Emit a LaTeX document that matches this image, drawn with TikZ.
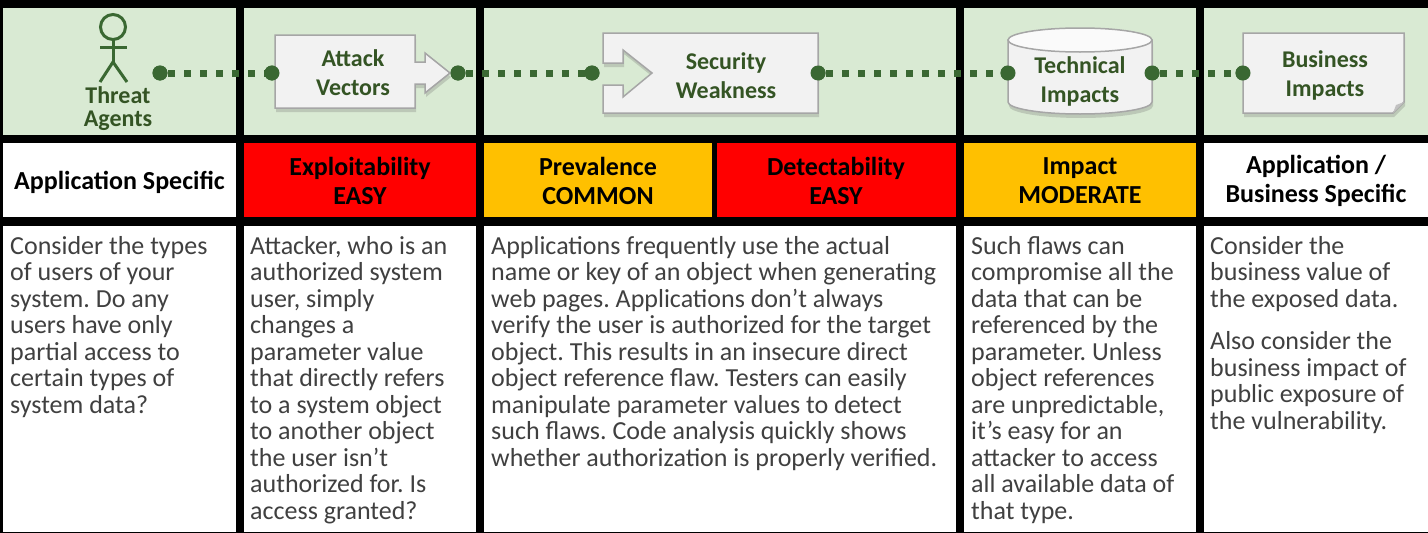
\documentclass[tikz,border=0pt]{standalone}
\usepackage{fontspec}
\setmainfont{Carlito}
\usetikzlibrary{shadows}
\definecolor{bggreen}{RGB}{217,234,211}
\definecolor{dkgreen}{RGB}{52,84,36}
\definecolor{dotgreen}{RGB}{58,104,50}
\definecolor{boxfill}{RGB}{242,242,242}
\definecolor{boxline}{RGB}{166,166,166}
\definecolor{riskred}{RGB}{255,0,0}
\definecolor{riskorange}{RGB}{255,192,0}
\definecolor{bodygray}{RGB}{64,64,64}
\frenchspacing
\begin{document}
\begin{tikzpicture}[x=1pt,y=-1pt,
  hdr/.style={font=\bfseries\fontsize{26}{29}\selectfont, align=center, inner sep=0pt, text=black},
  toplabel/.style={font=\bfseries\fontsize{24}{29}\selectfont, align=center, inner sep=0pt, text=dkgreen},
  bodytext/.style={font=\fontsize{26}{26.5}\selectfont, align=left, inner sep=0pt, anchor=north west, text=bodygray},
  gdot/.style={circle, fill=dotgreen, minimum size=15pt, inner sep=0pt},
  gline/.style={draw=dotgreen, line width=7pt, dash pattern=on 7pt off 9pt, dash phase=8pt},
  shapebox/.style={fill=boxfill, draw=boxline, line width=1.5pt, line join=miter,
    drop shadow={shadow xshift=1pt, shadow yshift=-4pt, opacity=0.25, fill=black!60}},
  figline/.style={draw=dotgreen, line width=3pt}
]
\useasboundingbox (0,0) rectangle (1428,533);
\fill[black] (0,0) rectangle (1428,533);
% green row
\fill[bggreen] (3,8) rectangle (236,135);
\fill[bggreen] (244,8) rectangle (476,135);
\fill[bggreen] (484,8) rectangle (956,135);
\fill[bggreen] (964,8) rectangle (1196,135);
\fill[bggreen] (1204,8) rectangle (1428,135);
% header row
\fill[white] (3,143) rectangle (236,217);
\fill[riskred] (244,143) rectangle (476,217);
\fill[riskorange] (484,143) rectangle (712,217);
\fill[riskred] (717,143) rectangle (956,217);
\fill[riskorange] (964,143) rectangle (1196,217);
\fill[white] (1204,143) rectangle (1428,217);
% body row
\fill[white] (3,226) rectangle (236,532);
\fill[white] (244,226) rectangle (476,532);
\fill[white] (484,226) rectangle (956,532);
\fill[white] (964,226) rectangle (1196,532);
\fill[white] (1204,226) rectangle (1428,532);

% dots
\node[gdot] (ta) at (160,73) {};
\node[gdot] (avin) at (272,73) {};
\node[gdot] (avout) at (458,73) {};
\node[gdot] (swin) at (592,73) {};
\node[gdot] (swout) at (818,73) {};
\node[gdot] (tiin) at (1008,73) {};
\node[gdot] (tiout) at (1152,73) {};
\node[gdot] (biin) at (1243,73) {};

% dotted connectors
\draw[gline] (ta.center) -- (avin.center);
\draw[gline] (avout.center) -- (swin.center);
\draw[gline] (swout.center) -- (tiin.center);
\draw[gline] (tiout.center) -- (biin.center);

% stick figure
\draw[figline] (113,27) circle (12.5);
\draw[figline] (113,39.5) -- (113,62);
\draw[figline] (100,47) -- (127,47);
\draw[figline] (100,82) -- (113,62) -- (127,82);
\node[toplabel, font=\bfseries\fontsize{24}{23}\selectfont] (tal) at (118,109) {Threat\\Agents};

% attack vectors box
\path[shapebox] (275,35) -- (415,35) -- (415,62) -- (425,62) -- (425,53) -- (450,73)
  -- (425,93) -- (425,84) -- (415,84) -- (415,108) -- (275,108) -- cycle;
\node[toplabel] (avl) at (353,73) {Attack\\Vectors};

% security weakness box
\path[shapebox] (603,33) -- (818,33) -- (818,113) -- (603,113) -- (603,85) -- (623,85)
  -- (623,97) -- (652,73) -- (623,50) -- (623,63) -- (603,63) -- cycle;
\node[toplabel] (swl) at (726,76) {Security\\Weakness};

% technical impacts cylinder
\path[shapebox] (1008,40) -- (1008,102) arc[start angle=180, end angle=0, x radius=72, y radius=12] -- (1152,40) -- cycle;
\draw[fill=white!60!boxfill, draw=boxline, line width=1.5pt] (1080,40) ellipse [x radius=72, y radius=12];
\node[toplabel] (til) at (1080,81) {Technical\\Impacts};

% business impacts page
\path[shapebox] (1243,33) -- (1404,33) -- (1404,102) -- (1393,113) -- (1243,113) -- cycle;
\fill[boxline!70!white] (1393,113) -- (1396,105) -- (1404,102) -- cycle;
\node[toplabel] (bil) at (1325,75) {Business\\Impacts};

% re-draw dots on top
\node[gdot] at (ta) {};
\node[gdot] at (avin) {};
\node[gdot] at (avout) {};
\node[gdot] at (swin) {};
\node[gdot] at (swout) {};
\node[gdot] at (tiin) {};
\node[gdot] at (tiout) {};
\node[gdot] at (biin) {};

% header labels
\node[hdr] (h1) at (119.5,182) {Application Specific};
\node[hdr] (h2) at (360,181) {Exploitability\\EASY};
\node[hdr] (h3) at (598,181) {Prevalence\\COMMON};
\node[hdr] (h4) at (836,181) {Detectability\\EASY};
\node[hdr] (h5) at (1080,181) {Impact\\MODERATE};
\node[hdr] (h6) at (1316,181) {Application /\\Business Specific};

% body texts
\node[bodytext] (b1) at (10,236) {Consider the types\\of users of your\\system. Do any\\users have only\\partial access to\\certain types of\\system data?};
\node[bodytext] (b2) at (250,236) {Attacker, who is an\\authorized system\\user, simply\\changes a\\parameter value\\that directly refers\\to a system object\\to another object\\the user isn’t\\authorized for. Is\\access granted?};
\node[bodytext] (b3) at (491,236) {Applications frequently use the actual\\name or key of an object when generating\\web pages. Applications don’t always\\verify the user is authorized for the target\\object. This results in an insecure direct\\object reference flaw. Testers can easily\\manipulate parameter values to detect\\such flaws. Code analysis quickly shows\\whether authorization is properly verified.};
\node[bodytext] (b4) at (971,236) {Such flaws can\\compromise all the\\data that can be\\referenced by the\\parameter. Unless\\object references\\are unpredictable,\\it’s easy for an\\attacker to access\\all available data of\\that type.};
\node[bodytext] (b5) at (1210,236) {Consider the\\business value of\\the exposed data.\\[16pt]Also consider the\\business impact of\\public exposure of\\the vulnerability.};
\end{tikzpicture}
\end{document}
